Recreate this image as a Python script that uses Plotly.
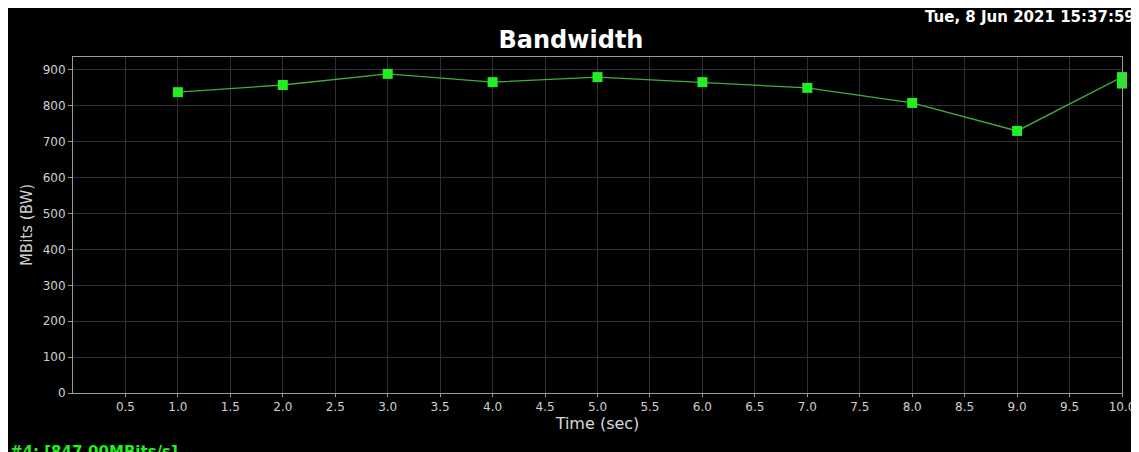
import plotly.graph_objects as go

time_sec = [1.0, 2.0, 3.0, 4.0, 5.0, 6.0, 7.0, 8.0, 9.0, 10.0, 10.0]
bandwidth_mbits = [838, 858, 889, 866, 880, 866, 850, 808, 730, 880, 862]
x_tick_vals = [0.5, 1.0, 1.5, 2.0, 2.5, 3.0, 3.5, 4.0, 4.5, 5.0, 5.5, 6.0, 6.5, 7.0, 7.5, 8.0, 8.5, 9.0, 9.5, 10.0]
x_tick_text = ["0.5", "1.0", "1.5", "2.0", "2.5", "3.0", "3.5", "4.0", "4.5", "5.0", "5.5", "6.0", "6.5", "7.0", "7.5", "8.0", "8.5", "9.0", "9.5", "10.0"]
y_tick_vals = [0, 100, 200, 300, 400, 500, 600, 700, 800, 900]
title_text = "Bandwidth"
timestamp_text = "Tue, 8 Jun 2021 15:37:59"
legend_text = "#4: [847.00MBits/s]"

# figure is placed by the page 8px from the left/top edge
W, H = 1125, 444
L, R, T, B = 65, 11, 49, 59
pw, ph = W - L - R, H - T - B

def px(x):
    return (x - L) / pw

def py(y):
    return (H - B - y) / ph

fig = go.Figure()
fig.add_trace(go.Scatter(
    x=time_sec, y=bandwidth_mbits, mode="lines+markers",
    line=dict(color="#3fae3f", width=1.3),
    marker=dict(symbol="square", size=10, color="#22ee22"),
    showlegend=False, cliponaxis=False,
))

fig.update_layout(
    width=W, height=H,
    margin=dict(l=L, r=R, t=T, b=B, autoexpand=False),
    paper_bgcolor="black", plot_bgcolor="black",
    font=dict(family="DejaVu Sans", color="#d0d0d0"),
    title=dict(text="<b>" + title_text + "</b>", xref="container", x=563 / W, xanchor="center",
               y=1 - 32 / H, yanchor="middle",
               font=dict(size=24, color="white", family="DejaVu Sans")),
    xaxis=dict(range=[0, 10], tickvals=x_tick_vals, ticktext=x_tick_text,
               automargin=False,
               showgrid=True, gridcolor="#303030", gridwidth=1,
               showline=True, linecolor="#9a9a9a", linewidth=1, mirror=True,
               ticks="outside", ticklen=3, tickcolor="#9a9a9a",
               ticklabeloverflow="allow",
               tickfont=dict(size=12, color="#d0d0d0"), zeroline=False,
               title=dict(text="Time (sec)", font=dict(size=16, color="#d8d8d8"), standoff=3)),
    yaxis=dict(range=[0, 936], tickvals=y_tick_vals,
               automargin=False,
               showgrid=True, gridcolor="#303030", gridwidth=1,
               showline=True, linecolor="#9a9a9a", linewidth=1, mirror=True,
               ticks="outside", ticklen=4, tickcolor="#9a9a9a",
               tickfont=dict(size=12, color="#d0d0d0"), zeroline=False,
               title=dict(text="MBits (BW)", font=dict(size=15, color="#d0d0d0"), standoff=6)),
)

fig.add_annotation(text="<b>" + timestamp_text + "</b>", xref="paper", yref="paper",
                   x=px(1129), y=py(9), xanchor="right", yanchor="middle",
                   showarrow=False, font=dict(size=15, color="white", family="DejaVu Sans"))
fig.add_annotation(text="<b>" + legend_text + "</b>", xref="paper", yref="paper",
                   x=px(0), y=py(433), xanchor="left", yanchor="top",
                   showarrow=False, font=dict(size=15, color="#22ee22", family="DejaVu Sans"))

fig.write_html("out.html")
